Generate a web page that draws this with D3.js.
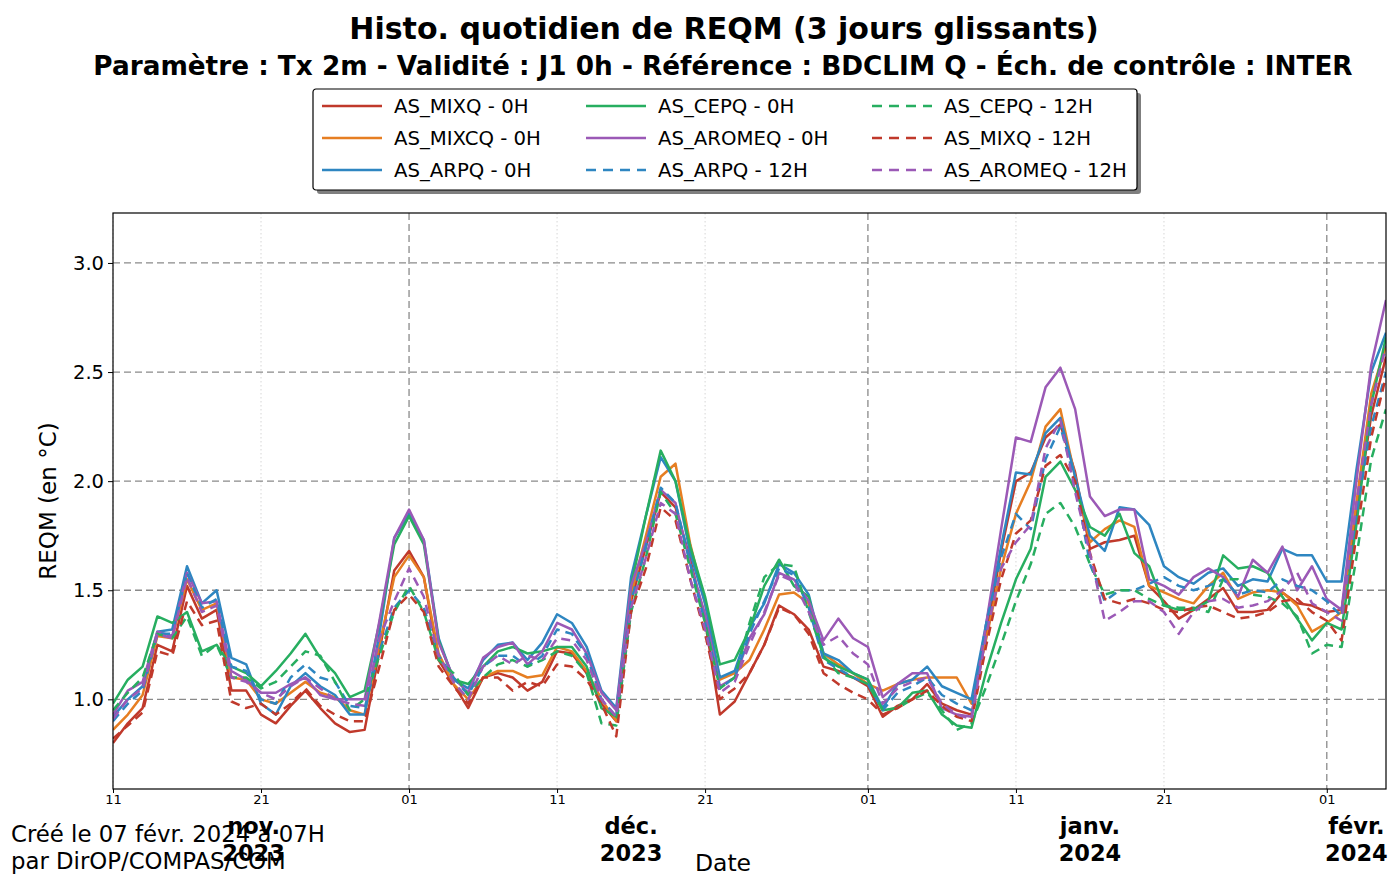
<!DOCTYPE html>
<html>
<head>
<meta charset="utf-8">
<script src="https://cdn.jsdelivr.net/npm/d3@7"></script>
<style>
  body { margin: 0; background: #fff; }
  text { font-family: "DejaVu Sans", sans-serif; fill: #000; }
</style>
</head>
<body>
<script>
// DATA (one value per day, from 11 Nov 2023 to 5 Feb 2024)
var startDay = Date.UTC(2023, 10, 11),
  endDay = Date.UTC(2024, 1, 5);

var mixq0 = [0.80,0.89,0.96,1.25,1.22,1.52,1.37,1.41,1.04,1.04,0.93,0.89,0.97,1.04,0.96,0.89,0.85,0.86,1.22,1.59,
  1.68,1.56,1.18,1.07,0.96,1.10,1.12,1.10,1.04,1.08,1.22,1.21,1.12,0.98,0.90,1.45,1.70,1.95,1.88,1.64,
  1.36,0.93,0.99,1.12,1.25,1.43,1.39,1.32,1.15,1.13,1.10,1.06,0.92,0.97,1.00,1.07,0.98,0.95,0.93,1.30,
  1.68,2.00,2.04,2.20,2.26,2.04,1.69,1.72,1.73,1.75,1.52,1.45,1.37,1.41,1.46,1.51,1.40,1.40,1.41,1.49,
  1.44,1.43,1.40,1.41,1.85,2.30,2.57];
var mixcq0 = [0.86,0.93,1.02,1.29,1.28,1.55,1.41,1.44,1.10,1.09,1.00,0.98,1.03,1.08,1.03,1.01,0.95,0.93,1.25,1.56,
  1.66,1.56,1.21,1.07,1.00,1.10,1.13,1.13,1.10,1.11,1.24,1.22,1.13,1.00,0.90,1.48,1.75,2.02,2.08,1.71,
  1.44,1.09,1.12,1.18,1.32,1.48,1.49,1.44,1.21,1.16,1.12,1.07,1.04,1.07,1.09,1.10,1.10,1.10,0.98,1.28,
  1.60,1.85,2.00,2.25,2.33,2.02,1.72,1.78,1.82,1.79,1.52,1.49,1.46,1.44,1.52,1.58,1.46,1.49,1.50,1.49,
  1.43,1.31,1.35,1.40,1.90,2.40,2.62];
var arpq0 = [0.92,1.00,1.06,1.31,1.32,1.61,1.44,1.50,1.19,1.16,0.98,0.93,1.06,1.12,1.06,1.02,0.93,0.93,1.30,1.74,
  1.85,1.73,1.28,1.09,1.05,1.18,1.25,1.26,1.18,1.26,1.39,1.35,1.24,1.04,0.96,1.56,1.84,2.11,2.00,1.67,
  1.44,1.10,1.13,1.33,1.44,1.62,1.58,1.48,1.21,1.18,1.12,1.09,0.96,1.07,1.09,1.15,1.06,1.03,1.00,1.35,
  1.70,2.04,2.03,2.22,2.29,2.02,1.75,1.68,1.88,1.87,1.80,1.61,1.56,1.53,1.58,1.60,1.52,1.55,1.54,1.69,
  1.66,1.66,1.54,1.54,2.05,2.50,2.68];
var cepq0 = [0.98,1.09,1.15,1.38,1.35,1.40,1.22,1.25,1.15,1.12,1.06,1.13,1.21,1.30,1.19,1.12,1.01,1.04,1.35,1.71,
  1.84,1.71,1.27,1.09,1.07,1.15,1.22,1.24,1.21,1.22,1.24,1.24,1.15,0.96,0.92,1.52,1.84,2.14,2.00,1.70,
  1.47,1.16,1.18,1.32,1.52,1.64,1.52,1.47,1.19,1.15,1.12,1.09,0.95,0.96,1.03,1.04,0.93,0.88,0.87,1.13,
  1.35,1.55,1.69,2.02,2.09,1.96,1.79,1.75,1.85,1.67,1.61,1.43,1.41,1.41,1.45,1.66,1.60,1.61,1.58,1.47,
  1.37,1.27,1.35,1.32,1.80,2.35,2.66];
var aromeq0 = [0.93,1.04,1.08,1.31,1.29,1.58,1.44,1.45,1.13,1.09,1.03,1.03,1.07,1.10,1.02,1.00,1.00,1.00,1.36,1.74,
  1.87,1.73,1.26,1.10,1.03,1.19,1.24,1.26,1.16,1.22,1.35,1.32,1.21,1.03,0.95,1.52,1.72,1.96,1.90,1.62,
  1.39,1.06,1.10,1.28,1.39,1.58,1.55,1.45,1.27,1.37,1.28,1.24,1.01,1.07,1.12,1.12,0.96,0.93,0.92,1.35,
  1.78,2.20,2.18,2.43,2.52,2.33,1.93,1.84,1.87,1.87,1.55,1.52,1.48,1.56,1.60,1.56,1.47,1.64,1.58,1.70,
  1.50,1.61,1.46,1.41,2.00,2.53,2.83];
var arpq12 = [0.90,0.98,1.04,1.30,1.30,1.58,1.42,1.46,1.15,1.13,1.00,0.98,1.10,1.16,1.10,1.08,0.97,0.96,1.22,1.42,
  1.50,1.42,1.20,1.10,1.02,1.15,1.20,1.20,1.15,1.20,1.32,1.30,1.20,1.00,0.92,1.45,1.70,1.97,1.90,1.62,
  1.35,1.05,1.10,1.30,1.45,1.60,1.57,1.42,1.18,1.14,1.10,1.07,0.95,1.03,1.06,1.10,1.02,0.98,0.95,1.35,
  1.65,1.85,1.78,2.10,2.25,2.00,1.62,1.45,1.50,1.50,1.53,1.56,1.52,1.50,1.52,1.55,1.48,1.50,1.49,1.55,
  1.52,1.50,1.45,1.38,1.85,2.25,2.50];
var cepq12 = [0.95,1.03,1.10,1.30,1.28,1.38,1.20,1.25,1.10,1.10,1.05,1.08,1.15,1.22,1.20,1.08,0.95,1.00,1.20,1.40,
  1.52,1.40,1.18,1.12,1.02,1.10,1.16,1.18,1.15,1.18,1.22,1.20,1.12,0.89,0.88,1.40,1.65,1.95,1.85,1.60,
  1.35,1.05,1.10,1.35,1.56,1.62,1.61,1.40,1.20,1.12,1.10,1.07,0.95,0.96,1.00,1.03,0.95,0.86,0.89,1.06,
  1.25,1.45,1.62,1.85,1.90,1.79,1.62,1.48,1.50,1.50,1.46,1.43,1.42,1.42,1.40,1.55,1.55,1.48,1.47,1.44,
  1.38,1.21,1.25,1.24,1.65,2.10,2.33];
var mixq12 = [0.82,0.88,0.94,1.22,1.20,1.45,1.34,1.36,0.99,0.96,0.98,0.93,0.98,1.05,0.97,0.93,0.90,0.90,1.15,1.41,
  1.48,1.40,1.15,1.06,0.98,1.10,1.10,1.04,1.08,1.06,1.16,1.15,1.09,0.98,0.83,1.40,1.60,1.88,1.82,1.55,
  1.30,1.00,1.05,1.12,1.25,1.42,1.39,1.30,1.12,1.07,1.03,1.00,0.93,0.96,1.00,1.04,0.97,0.92,0.90,1.25,
  1.55,1.76,1.82,2.07,2.12,2.00,1.67,1.46,1.44,1.46,1.44,1.41,1.40,1.42,1.43,1.40,1.37,1.38,1.40,1.45,
  1.46,1.40,1.36,1.27,1.75,2.20,2.48];
var aromeq12 = [0.91,1.00,1.05,1.30,1.28,1.56,1.40,1.43,1.10,1.08,1.03,1.00,1.06,1.10,1.05,1.00,0.98,0.97,1.28,1.45,
  1.60,1.47,1.20,1.08,1.00,1.15,1.20,1.16,1.20,1.18,1.28,1.27,1.18,1.00,0.92,1.42,1.65,1.90,1.85,1.55,
  1.32,1.03,1.08,1.25,1.40,1.57,1.54,1.40,1.25,1.29,1.21,1.16,0.98,1.05,1.08,1.10,0.98,0.93,0.91,1.30,
  1.60,1.72,1.80,2.15,2.28,1.95,1.67,1.36,1.40,1.45,1.45,1.40,1.30,1.40,1.45,1.46,1.42,1.43,1.45,1.50,
  1.58,1.44,1.40,1.36,1.90,2.35,2.62];

// series, in legend order (column by column)
var seriesNames = ["AS_MIXQ - 0H", "AS_MIXCQ - 0H", "AS_ARPQ - 0H",
  "AS_CEPQ - 0H", "AS_AROMEQ - 0H", "AS_ARPQ - 12H",
  "AS_CEPQ - 12H", "AS_MIXQ - 12H", "AS_AROMEQ - 12H"];
var seriesValues = [mixq0, mixcq0, arpq0, cepq0, aromeq0, arpq12, cepq12, mixq12, aromeq12];
var seriesColors = ["#c0392b", "#e67e22", "#2e86c1", "#27ae60", "#9b59b6",
  "#2e86c1", "#27ae60", "#c0392b", "#9b59b6"];
var seriesDashed = [false, false, false, false, false, true, true, true, true];

var yTicks = [1.0, 1.5, 2.0, 2.5, 3.0];

// INPUTS
var margin = { top: 213, right: 4, bottom: 88, left: 113 },
  totalWidth = 1390,
  totalHeight = 877,
  width = totalWidth - margin.left - margin.right,
  height = totalHeight - margin.top - margin.bottom;

var svg = d3.select("body").append("svg")
  .attr("width", totalWidth)
  .attr("height", totalHeight);

// titles
svg.append("text")
  .attr("x", 724).attr("y", 39)
  .attr("text-anchor", "middle")
  .style("font-size", "30px").style("font-weight", "bold")
  .text("Histo. quotidien de REQM (3 jours glissants)");
svg.append("text")
  .attr("x", 723).attr("y", 75)
  .attr("text-anchor", "middle")
  .style("font-size", "26.3px").style("font-weight", "bold")
  .text("Paramètre : Tx 2m - Validité : J1 0h - Référence : BDCLIM Q - Éch. de contrôle : INTER");

var g = svg.append("g")
  .attr("transform", "translate(" + margin.left + "," + margin.top + ")");

var days = d3.utcDay.range(new Date(startDay), new Date(endDay + 1));

var x = d3.scaleUtc()
  .domain([new Date(startDay), new Date(endDay)])
  .range([0, width]);

var y = d3.scaleLinear()
  .domain([0.589, 3.229])
  .range([height, 0]);

// grid
var minorDates = days.filter(function (d) {
  return d.getUTCDate() === 11 || d.getUTCDate() === 21;
});
var majorDates = days.filter(function (d) {
  return d.getUTCDate() === 1;
});

g.selectAll("line.minorgrid")
  .data(minorDates)
  .enter().append("line")
  .attr("class", "minorgrid")
  .attr("x1", function (d) { return x(d); })
  .attr("x2", function (d) { return x(d); })
  .attr("y1", 0).attr("y2", height)
  .attr("stroke", "#d6d6d6")
  .attr("stroke-width", 1)
  .attr("stroke-dasharray", "1.5,2.5");

g.selectAll("line.majorgrid")
  .data(majorDates)
  .enter().append("line")
  .attr("class", "majorgrid")
  .attr("x1", function (d) { return x(d); })
  .attr("x2", function (d) { return x(d); })
  .attr("y1", 0).attr("y2", height)
  .attr("stroke", "#8a8a8a")
  .attr("stroke-width", 1.3)
  .attr("stroke-dasharray", "7,4");

g.selectAll("line.ygrid")
  .data(yTicks)
  .enter().append("line")
  .attr("class", "ygrid")
  .attr("x1", 0).attr("x2", width)
  .attr("y1", function (d) { return y(d); })
  .attr("y2", function (d) { return y(d); })
  .attr("stroke", "#8a8a8a")
  .attr("stroke-width", 1.3)
  .attr("stroke-dasharray", "7,4");

// lines
g.append("clipPath").attr("id", "clip")
  .append("rect").attr("width", width).attr("height", height);

var line = d3.line()
  .x(function (d, i) { return x(days[i]); })
  .y(function (d) { return y(d); });

g.append("g").attr("clip-path", "url(#clip)")
  .selectAll("path.serie")
  .data(seriesValues)
  .enter().append("path")
  .attr("class", "serie")
  .attr("d", line)
  .attr("fill", "none")
  .attr("stroke", function (d, i) { return seriesColors[i]; })
  .attr("stroke-width", 2.5)
  .attr("stroke-linejoin", "round")
  .attr("stroke-dasharray", function (d, i) { return seriesDashed[i] ? "9,6" : null; });

// frame
g.append("rect")
  .attr("width", width).attr("height", height)
  .attr("fill", "none").attr("stroke", "#000").attr("stroke-width", 1.2);

// y axis
var yAxis = g.append("g")
  .call(d3.axisLeft(y).tickValues(yTicks).tickFormat(d3.format(".1f")).tickSize(5).tickPadding(4));
yAxis.select(".domain").remove();
yAxis.selectAll("text").style("font-size", "19.5px").attr("font-family", null);

svg.append("text")
  .attr("transform", "translate(56," + (margin.top + height / 2) + ") rotate(-90)")
  .attr("text-anchor", "middle")
  .style("font-size", "23px")
  .text("REQM (en °C)");

// x axis, day ticks
var xAxis = g.append("g")
  .attr("transform", "translate(0," + height + ")")
  .call(d3.axisBottom(x)
    .tickValues(minorDates.concat(majorDates))
    .tickFormat(d3.utcFormat("%d"))
    .tickSize(4).tickPadding(2));
xAxis.select(".domain").remove();
xAxis.selectAll("text").style("font-size", "13px").attr("font-family", null);

// month labels, centred on the visible part of each month
var frMonths = ["janv.", "févr.", "mars", "avr.", "mai", "juin", "juil.", "août", "sept.", "oct.", "nov.", "déc."];
var months = d3.utcMonth.range(d3.utcMonth.floor(new Date(startDay)), new Date(endDay + 1));
months.forEach(function (m) {
  var first = Math.max(+m, startDay),
    last = Math.min(+d3.utcDay.offset(d3.utcMonth.offset(m, 1), -1), endDay);
  var cx = x(new Date((first + last) / 2));
  var t = g.append("text")
    .attr("x", cx).attr("y", height + 45)
    .attr("text-anchor", "middle")
    .style("font-size", "22.5px").style("font-weight", "bold");
  t.append("tspan").attr("x", cx).text(frMonths[m.getUTCMonth()]);
  t.append("tspan").attr("x", cx).attr("dy", 27).text(m.getUTCFullYear());
});

svg.append("text")
  .attr("x", 723).attr("y", 871)
  .attr("text-anchor", "middle")
  .style("font-size", "23.5px")
  .text("Date");

// credit
svg.append("text").attr("x", 11).attr("y", 842)
  .style("font-size", "22.8px")
  .text("Créé le 07 févr. 2024 à 07H");
svg.append("text").attr("x", 11).attr("y", 869)
  .style("font-size", "22.8px")
  .text("par DirOP/COMPAS/COM");

// legend
var legend = svg.append("g").attr("transform", "translate(313,89)");
legend.append("rect")
  .attr("x", 4).attr("y", 4).attr("width", 824).attr("height", 101)
  .attr("rx", 3).attr("fill", "#7f7f7f");
legend.append("rect")
  .attr("width", 824).attr("height", 101)
  .attr("rx", 3).attr("fill", "#fff").attr("stroke", "#000").attr("stroke-width", 1.2);

var colX = [9, 273, 559];
seriesNames.forEach(function (name, i) {
  var cx = colX[Math.floor(i / 3)],
    cy = 17 + (i % 3) * 32;
  legend.append("line")
    .attr("x1", cx).attr("x2", cx + 60)
    .attr("y1", cy).attr("y2", cy)
    .attr("stroke", seriesColors[i])
    .attr("stroke-width", 2.5)
    .attr("stroke-dasharray", seriesDashed[i] ? "10,7" : null);
  legend.append("text")
    .attr("x", cx + 72).attr("y", cy + 7)
    .style("font-size", "19.7px")
    .text(name);
});
</script>
</body>
</html>
